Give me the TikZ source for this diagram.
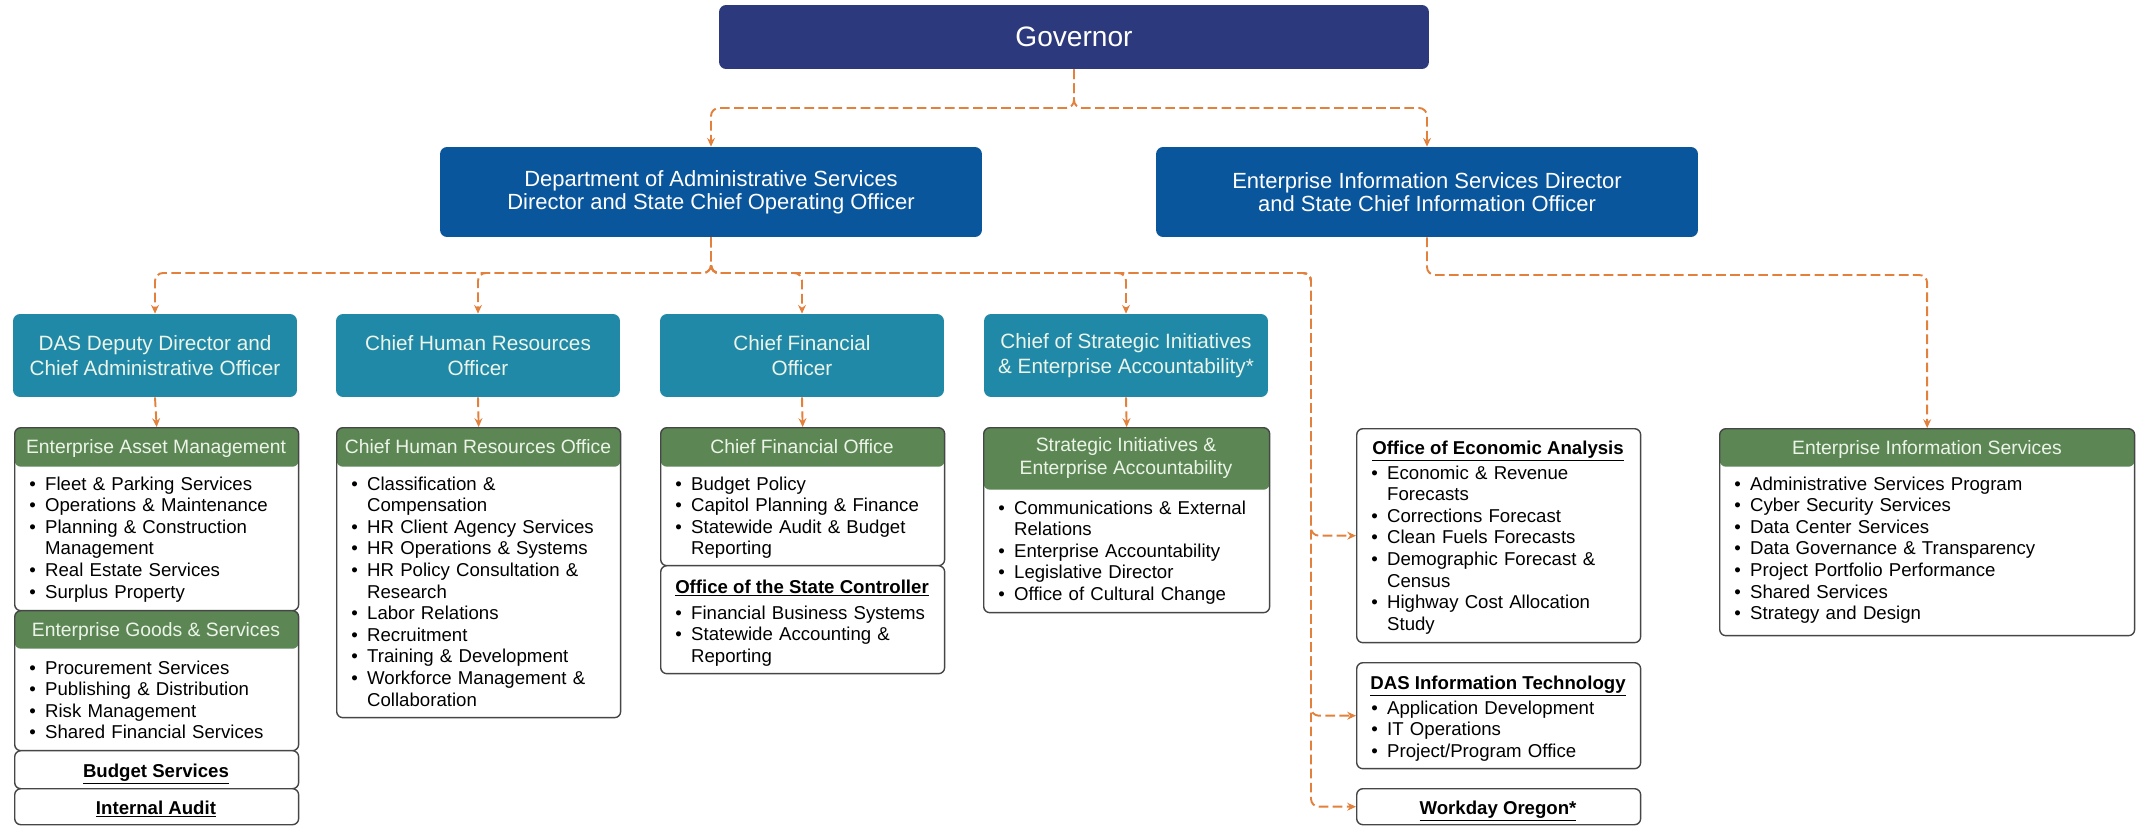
\documentclass[tikz,border=0pt]{standalone}
\usepackage{fontspec}
\setmainfont{Liberation Sans}
\usetikzlibrary{arrows.meta}

\definecolor{govnavy}{RGB}{44,58,125}
\definecolor{dirblue}{RGB}{10,86,156}
\definecolor{officeteal}{RGB}{32,137,168}
\definecolor{hdrgreen}{RGB}{92,135,85}
\definecolor{linkorange}{RGB}{226,128,60}
\definecolor{edgegray}{RGB}{70,70,70}
\definecolor{paletext}{RGB}{236,244,232}

\newcommand\itm[1]{\hangindent=9pt\hangafter=1\noindent\makebox[9pt][l]{\textbullet}#1\par}

\begin{document}
\begin{tikzpicture}[x=0.02cm, y=-0.02cm, >={Stealth[length=5pt,width=4.5pt]},
    chief/.style={fill=#1, rounded corners=4pt, inner sep=0pt, align=center, text=white},
    officer/.style={chief=officeteal, minimum width=5.68cm, minimum height=1.66cm,
      text=paletext, font=\fontsize{11.8pt}{14.2pt}\selectfont},
    unitbox/.style={draw=edgegray, fill=white, line width=0.8pt, rounded corners=3.5pt,
      inner sep=0pt, anchor=north west},
    panel/.style={unitbox, path picture={\fill[hdrgreen] (path picture bounding box.north west)
      rectangle ([yshift=-#1]path picture bounding box.north east);}},
    hdr/.style={anchor=base, text=paletext, align=center, font=\fontsize{11pt}{13.6pt}\selectfont},
    unittitle/.style={anchor=base, font=\fontsize{10.6pt}{12.3pt}\selectfont\bfseries},
    items/.style={anchor=base west, inner sep=0pt, align=left, text width=#1,
      font=\fontsize{10.6pt}{12.3pt}\selectfont},
    link/.style={->, linkorange, line width=1.1pt, dash pattern=on 5.5pt off 2.5pt,
      rounded corners=4.5pt}]
  \useasboundingbox (0,0) rectangle (2136,825);

  \node[chief=govnavy, minimum width=14.2cm, minimum height=1.28cm,
    font=\fontsize{16pt}{19pt}\selectfont] (gov) at (1074,37) {Governor};
  \node[chief=dirblue, minimum width=10.84cm, minimum height=1.8cm,
    font=\fontsize{12.5pt}{13.1pt}\selectfont] (das) at (711,192)
    {Department of Administrative Services\\Director and State Chief Operating Officer};
  \node[chief=dirblue, minimum width=10.84cm, minimum height=1.8cm,
    font=\fontsize{12.5pt}{13.1pt}\selectfont] (eis) at (1427,192)
    {Enterprise Information Services Director\\and State Chief Information Officer};

  \foreach \x/\n/\t in {155/dep/{DAS Deputy Director and\\Chief Administrative Officer},
      478/chro/{Chief Human Resources\\Officer}, 802/cfo/{Chief Financial\\Officer},
      1126/csi/{Chief of Strategic Initiatives\\\& Enterprise Accountability*}}
    \node[officer] (\n) at (\x,355.5) {\t};

  % offices
  \node[panel=0.78cm, minimum width=5.68cm, minimum height=3.66cm] (eam) at (14,427) {};
  \node[panel=0.76cm, minimum width=5.68cm, minimum height=2.8cm] (egs) at (14,610) {};
  \node[unitbox, minimum width=5.68cm, minimum height=0.76cm] (bud) at (14,750) {};
  \node[unitbox, minimum width=5.68cm, minimum height=0.72cm] (aud) at (14,788) {};
  \node[panel=0.78cm, minimum width=5.68cm, minimum height=5.8cm] (hro) at (336,427) {};
  \node[panel=0.78cm, minimum width=5.68cm, minimum height=2.76cm] (cfoo) at (660,427) {};
  \node[unitbox, minimum width=5.68cm, minimum height=2.16cm] (osc) at (660,565) {};
  \node[panel=1.24cm, minimum width=5.72cm, minimum height=3.7cm] (siea) at (983,427) {};
  \node[unitbox, minimum width=5.68cm, minimum height=4.28cm] (oea) at (1356,428) {};
  \node[unitbox, minimum width=5.68cm, minimum height=2.12cm] (dit) at (1356,662) {};
  \node[unitbox, minimum width=5.68cm, minimum height=0.72cm] (wdo) at (1356,788) {};
  \node[panel=0.76cm, minimum width=8.3cm, minimum height=4.14cm] (eisp) at (1719,428) {};

  \node[hdr] (eamh) at (156,453) {Enterprise Asset Management};
  \node[hdr] (egsh) at (156,636) {Enterprise Goods \& Services};
  \node[hdr] (hroh) at (478,453) {Chief Human Resources Office};
  \node[hdr] (cfooh) at (802,453) {Chief Financial Office};
  \node[hdr, anchor=center] (sieah) at (1126,458) {Strategic Initiatives \&\\Enterprise Accountability};
  \node[hdr] (eisph) at (1927,454) {Enterprise Information Services};

  \node[unittitle] (budt) at (156,777) {\underline{Budget Services}};
  \node[unittitle] (audt) at (156,814) {\underline{Internal Audit}};
  \node[unittitle] (osct) at (802,593) {\underline{Office of the State Controller}};
  \node[unittitle] (oeat) at (1498,454) {\underline{Office of Economic Analysis}};
  \node[unittitle] (ditt) at (1498,689) {\underline{DAS Information Technology}};
  \node[unittitle] (wdot) at (1498,814) {\underline{Workday Oregon*}};

  \node[items=5.3cm] (eaml) at (29,490) {\itm{Fleet \& Parking Services}\itm{Operations \& Maintenance}
    \itm{Planning \& Construction\newline Management}\itm{Real Estate Services}\itm{Surplus Property}};
  \node[items=5.3cm] (egsl) at (29,674) {\itm{Procurement Services}\itm{Publishing \& Distribution}
    \itm{Risk Management}\itm{Shared Financial Services}};
  \node[items=5.3cm] (hrol) at (351,490) {\itm{Classification \&\newline Compensation}
    \itm{HR Client Agency Services}\itm{HR Operations \& Systems}
    \itm{HR Policy Consultation \&\newline Research}\itm{Labor Relations}\itm{Recruitment}
    \itm{Training \& Development}\itm{Workforce Management \&\newline Collaboration}};
  \node[items=5.3cm] (cfool) at (675,490) {\itm{Budget Policy}\itm{Capitol Planning \& Finance}
    \itm{Statewide Audit \& Budget\newline Reporting}};
  \node[items=5.3cm] (oscl) at (675,619) {\itm{Financial Business Systems}
    \itm{Statewide Accounting \&\newline Reporting}};
  \node[items=5.3cm] (sieal) at (998,514) {\itm{Communications \& External\newline Relations}
    \itm{Enterprise Accountability}\itm{Legislative Director}\itm{Office of Cultural Change}};
  \node[items=5.3cm] (oeal) at (1371,479) {\itm{Economic \& Revenue\newline Forecasts}
    \itm{Corrections Forecast}\itm{Clean Fuels Forecasts}
    \itm{Demographic Forecast \&\newline Census}\itm{Highway Cost Allocation\newline Study}};
  \node[items=5.3cm] (ditl) at (1371,714) {\itm{Application Development}\itm{IT Operations}
    \itm{Project/Program Office}};
  \node[items=7.9cm] (eispl) at (1734,490) {\itm{Administrative Services Program}
    \itm{Cyber Security Services}\itm{Data Center Services}\itm{Data Governance \& Transparency}
    \itm{Project Portfolio Performance}\itm{Shared Services}\itm{Strategy and Design}};

  \coordinate (govj) at (1074,108);
  \coordinate (dasj) at (711,273);
  \coordinate (eisj) at (1427,275);
  \coordinate (rail) at (1311,273);
  \draw[link] (gov.south) -- (govj) -| (das.north);
  \draw[link] (gov.south) -- (govj) -| (eis.north);
  \foreach \n in {dep,chro,cfo,csi}
    \draw[link] (das.south) -- (dasj) -| (\n.north);
  \foreach \n in {oea,dit,wdo}
    \draw[link] (das.south) -- (dasj) -| (rail |- \n.west) -- (\n.west);
  \draw[link] (eis.south) -- (eisj) -| (eisp.north);
  \foreach \a/\b in {dep/eam,chro/hro,cfo/cfoo,csi/siea}
    \draw[link] (\a.south) -- (\b.north);
\end{tikzpicture}
\end{document}
